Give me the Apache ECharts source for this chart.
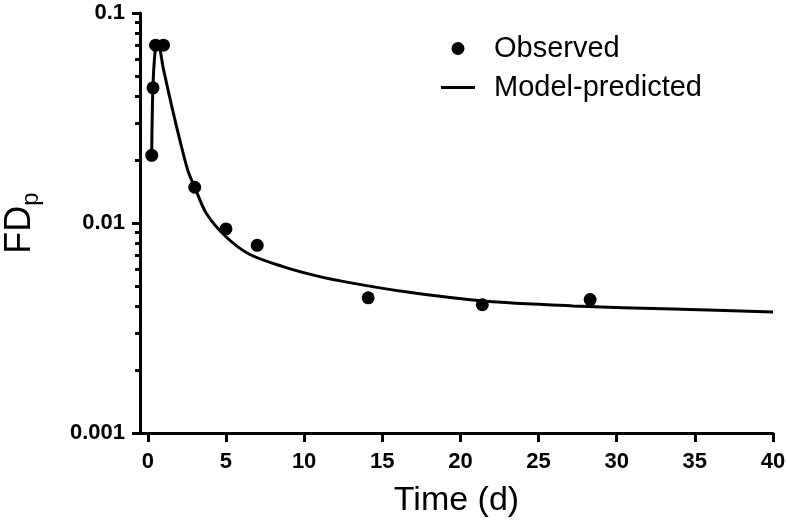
<!DOCTYPE html>
<html>
<head>
<meta charset="utf-8">
<script src="https://cdn.jsdelivr.net/npm/echarts@6/dist/echarts.min.js"></script>
<style>
html,body{margin:0;padding:0;background:#fff;}
#chart{width:787px;height:526px;}
</style>
</head>
<body>
<div id="chart"></div>
<script>
// ---- data ----
const xTickValues = [0, 5, 10, 15, 20, 25, 30, 35, 40];
const yMajorTicks = [0.001, 0.01, 0.1];
const yMinorTicks = [0.002, 0.003, 0.004, 0.005, 0.006, 0.007, 0.008, 0.009,
                     0.02, 0.03, 0.04, 0.05, 0.06, 0.07, 0.08, 0.09];
const observedTime = [0.25, 0.33, 0.5, 1, 3, 5, 7, 14.1, 21.4, 28.3];
const observedFD   = [0.0210, 0.0440, 0.0703, 0.0703, 0.0148, 0.00937, 0.00783, 0.00440, 0.00408, 0.00432];
const modelTime = [0.25, 0.33, 0.5, 0.65, 1, 1.5, 2, 2.56, 3, 3.75, 5, 6.5, 8.65, 10.8, 12.9, 16.5, 21.4, 27.2, 33.6, 40];
const modelFD   = [0.0213, 0.045, 0.069, 0.071, 0.054, 0.0368, 0.0257, 0.0178, 0.0148, 0.0111, 0.0086, 0.0071, 0.0062, 0.0056, 0.0052, 0.0047, 0.00425, 0.00403, 0.00389, 0.00377];
const legendNames = ['Observed', 'Model-predicted'];

const observedData = observedTime.map((t, i) => [t, observedFD[i]]);
const modelData = modelTime.map((t, i) => [t, modelFD[i]]);

const FONT = '"Liberation Sans", Arial, Helvetica, sans-serif';
const chart = echarts.init(document.getElementById('chart'), null, {renderer: 'canvas'});
chart.setOption({
  animation: false,
  backgroundColor: '#fff',
  grid: {left: 140, right: 14, top: 13, bottom: 93, containLabel: false, outerBoundsMode: 'none'},
  legend: {
    data: [
      {name: legendNames[0], icon: 'circle'},
      {name: legendNames[1], icon: 'path://M0,0 L34,0 L34,3 L0,3 Z'}
    ],
    orient: 'vertical',
    left: 441,
    top: 34,
    padding: 0,
    itemWidth: 34,
    itemHeight: 13,
    itemGap: 10,
    selectedMode: false,
    textStyle: {fontFamily: FONT, fontSize: 29, color: '#000', padding: [0, 0, 0, 14]}
  },
  xAxis: {
    type: 'value',
    min: -0.5,
    max: 40,
    name: 'Time (d)',
    nameLocation: 'middle',
    nameGap: 51,
    nameTextStyle: {fontFamily: FONT, fontSize: 34, color: '#000'},
    axisLine: {show: true, onZero: false, lineStyle: {color: '#000', width: 3}},
    axisTick: {show: true, customValues: xTickValues, length: 9, lineStyle: {color: '#000', width: 3}},
    axisLabel: {customValues: xTickValues, margin: 18, fontFamily: FONT, fontSize: 22, fontWeight: 'bold', color: '#000'},
    splitLine: {show: false}
  },
  yAxis: [{
    type: 'log',
    logBase: 10,
    min: 0.001,
    max: 0.1,
    position: 'left',
    name: '{a|FD}{b|p}',
    nameLocation: 'middle',
    nameGap: 97,
    nameTextStyle: {
      fontFamily: FONT, color: '#000',
      rich: {
        a: {fontFamily: FONT, fontSize: 36, color: '#000', verticalAlign: 'bottom', lineHeight: 40, padding: [0, 0, 5, 0]},
        b: {fontFamily: FONT, fontSize: 24, color: '#000', verticalAlign: 'bottom', lineHeight: 40}
      }
    },
    axisLine: {show: true, onZero: false, lineStyle: {color: '#000', width: 3}},
    axisTick: {show: true, customValues: yMajorTicks, length: 8, lineStyle: {color: '#000', width: 3}},
    axisLabel: {customValues: yMajorTicks, margin: 15, fontFamily: FONT, fontSize: 22, fontWeight: 'bold', color: '#000',
      formatter: v => String(v)},
    splitLine: {show: false}
  }, {
    type: 'log',
    logBase: 10,
    min: 0.001,
    max: 0.1,
    position: 'left',
    offset: 0,
    axisLine: {show: false, onZero: false},
    axisTick: {show: true, customValues: yMinorTicks, length: 5, lineStyle: {color: '#000', width: 3}},
    axisLabel: {show: false},
    splitLine: {show: false}
  }],
  series: [{
    name: 'Model-predicted',
    type: 'line',
    data: modelData,
    yAxisIndex: 0,
    symbol: 'none',
    smooth: 0.3,
    lineStyle: {color: '#000', width: 3},
    itemStyle: {color: '#000'}
  }, {
    name: 'Observed',
    type: 'scatter',
    data: observedData,
    yAxisIndex: 0,
    symbol: 'circle',
    symbolSize: 13,
    itemStyle: {color: '#000', opacity: 1}
  }]
});
</script>
</body>
</html>
